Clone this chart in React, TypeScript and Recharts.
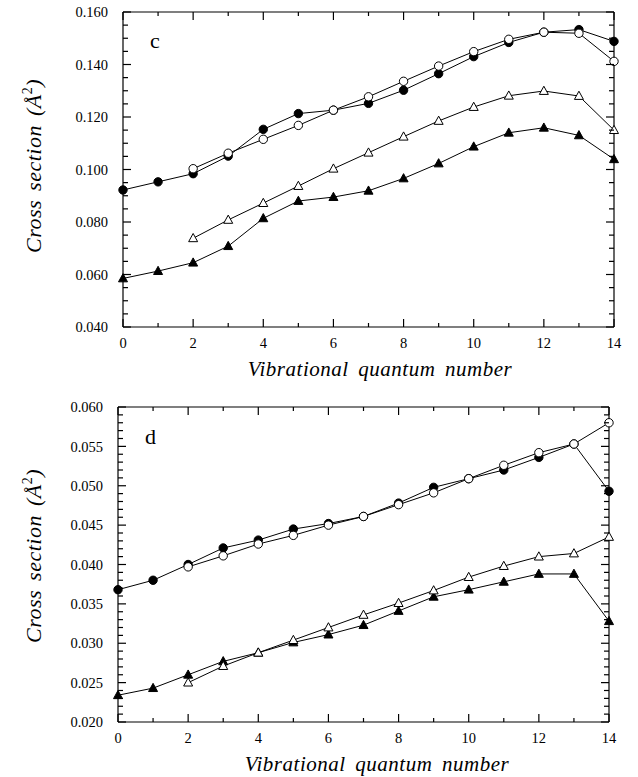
import React from "react";
import { LineChart, Line, XAxis, YAxis } from "recharts";

// ---------- data ----------
const vibrationalLevels = [0, 1, 2, 3, 4, 5, 6, 7, 8, 9, 10, 11, 12, 13, 14];

// panel c
const cFilledCircle = [0.0922, 0.0953, 0.0984, 0.1051, 0.1153, 0.1213, 0.1226, 0.1252, 0.1302, 0.1365, 0.143, 0.1484, 0.1523, 0.1533, 0.1488];
const cOpenCircle = [null, null, 0.1003, 0.1062, 0.1115, 0.1168, 0.1226, 0.1277, 0.1336, 0.1394, 0.1449, 0.1496, 0.1523, 0.1519, 0.1412];
const cOpenTriangle = [null, null, 0.0738, 0.0808, 0.0872, 0.0937, 0.1003, 0.1064, 0.1125, 0.1185, 0.1238, 0.1281, 0.1299, 0.128, 0.115];
const cFilledTriangle = [0.0585, 0.0613, 0.0645, 0.0708, 0.0814, 0.088, 0.0895, 0.0919, 0.0966, 0.1023, 0.1087, 0.114, 0.1159, 0.113, 0.1039];

// panel d
const dFilledCircle = [0.0368, 0.038, 0.04, 0.0421, 0.0431, 0.0445, 0.0452, 0.0461, 0.0478, 0.0498, 0.0509, 0.052, 0.0536, 0.0553, 0.0493];
const dOpenCircle = [null, null, 0.0397, 0.0411, 0.0426, 0.0437, 0.045, 0.0461, 0.0476, 0.0491, 0.0509, 0.0526, 0.0542, 0.0553, 0.058];
const dOpenTriangle = [null, null, 0.025, 0.0271, 0.0288, 0.0304, 0.032, 0.0336, 0.0351, 0.0367, 0.0384, 0.0398, 0.041, 0.0414, 0.0435];
const dFilledTriangle = [0.0234, 0.0243, 0.026, 0.0277, 0.0288, 0.0301, 0.0311, 0.0323, 0.0341, 0.0359, 0.0368, 0.0378, 0.0388, 0.0388, 0.0328];

// axis ticks
const xMajorTicks = [0, 2, 4, 6, 8, 10, 12, 14];
const cYMajorTicks = [0.04, 0.06, 0.08, 0.1, 0.12, 0.14, 0.16];
const dYMajorTicks = [0.02, 0.025, 0.03, 0.035, 0.04, 0.045, 0.05, 0.055, 0.06];

const xTitle = "Vibrational quantum number";
const yTitleMain = "Cross section (Å";
const yTitleSup = "2";
const yTitleEnd = ")";

// ---------- helpers ----------
const FONT = "'Liberation Serif', 'Times New Roman', serif";

function buildRows(fc: (number | null)[], oc: (number | null)[], ot: (number | null)[], ft: (number | null)[]) {
  return vibrationalLevels.map((v, i) => ({ v, fc: fc[i], oc: oc[i], ot: ot[i], ft: ft[i] }));
}

function withMinor(majors: number[], parts: number) {
  const out: number[] = [];
  for (let i = 0; i < majors.length; i++) {
    out.push(majors[i]);
    if (i < majors.length - 1) {
      const step = (majors[i + 1] - majors[i]) / parts;
      for (let k = 1; k < parts; k++) out.push(+(majors[i] + k * step).toFixed(6));
    }
  }
  return out;
}

function isMajor(val: number, majors: number[]) {
  return majors.some((m) => Math.abs(m - val) < 1e-7);
}

const AX = { stroke: "#000", strokeWidth: 1.2 };

const makeDot = (kind: string) => (p: any) => {
  const key = `${kind}-${p.index}`;
  if (p.cx == null || p.cy == null || p.value == null) return <g key={key} />;
  const { cx, cy } = p;
  if (kind === "fc") return <circle key={key} cx={cx} cy={cy} r={4.2} fill="#000" stroke="#000" strokeWidth={1} />;
  if (kind === "oc") return <circle key={key} cx={cx} cy={cy} r={4.2} fill="#fff" stroke="#000" strokeWidth={1} />;
  const d = `M${cx},${cy - 4.8} L${cx + 4.5},${cy + 3.4} L${cx - 4.5},${cy + 3.4} Z`;
  if (kind === "ft") return <path key={key} d={d} fill="#000" stroke="#000" strokeWidth={1} />;
  return <path key={key} d={d} fill="#fff" stroke="#000" strokeWidth={1} />;
};

function Panel(props: {
  top: number;
  leftW: number;
  rightM: number;
  rows: any[];
  yMajors: number[];
  yParts: number;
}) {
  const { top, leftW, rightM, rows, yMajors, yParts } = props;
  const yTicks = withMinor(yMajors, yParts);
  const xTicks = vibrationalLevels;
  const yDomain = [yMajors[0], yMajors[yMajors.length - 1]];

  const LeftTick = (p: any) => {
    const val = p.payload.value;
    const major = isMajor(val, yMajors);
    return (
      <g>
        <line x1={p.x} y1={p.y} x2={p.x + (major ? 8 : 5)} y2={p.y} stroke="#000" strokeWidth={1.2} />
        {major && (
          <text x={p.x - 15} y={p.y} dy="0.36em" textAnchor="end" fontFamily={FONT} fontSize={14.5} fill="#000">
            {val.toFixed(3)}
          </text>
        )}
      </g>
    );
  };
  const RightTick = (p: any) => {
    const major = isMajor(p.payload.value, yMajors);
    return <line x1={p.x} y1={p.y} x2={p.x - (major ? 8 : 5)} y2={p.y} stroke="#000" strokeWidth={1.2} />;
  };
  const BottomTick = (p: any) => {
    const val = p.payload.value;
    const major = xMajorTicks.includes(val);
    return (
      <g>
        <line x1={p.x} y1={p.y} x2={p.x} y2={p.y - (major ? 8 : 4)} stroke="#000" strokeWidth={1.2} />
        {major && (
          <text x={p.x} y={p.y + 21} textAnchor="middle" fontFamily={FONT} fontSize={14.5} fill="#000">
            {val}
          </text>
        )}
      </g>
    );
  };
  const TopTick = (p: any) => {
    const major = xMajorTicks.includes(p.payload.value);
    return <line x1={p.x} y1={p.y} x2={p.x} y2={p.y + (major ? 8 : 4)} stroke="#000" strokeWidth={1.2} />;
  };

  return (
    <div style={{ position: "absolute", left: 0, top }}>
      <LineChart width={638} height={390} data={rows} margin={{ top: 10, right: rightM, bottom: 34, left: 0 }}>
        <XAxis
          dataKey="v"
          type="number"
          domain={[0, 14]}
          ticks={xTicks}
          interval={0}
          tickSize={0}
          tickMargin={0}
          tickLine={false}
          axisLine={AX}
          height={30}
          tick={<BottomTick />}
        />
        <XAxis
          xAxisId="top"
          orientation="top"
          dataKey="v"
          type="number"
          domain={[0, 14]}
          ticks={xTicks}
          interval={0}
          tickSize={0}
          tickMargin={0}
          tickLine={false}
          axisLine={AX}
          height={1}
          tick={<TopTick />}
        />
        <YAxis
          type="number"
          domain={yDomain}
          ticks={yTicks}
          interval={0}
          tickSize={0}
          tickMargin={0}
          tickLine={false}
          axisLine={AX}
          width={leftW}
          allowDataOverflow
          tick={<LeftTick />}
        />
        <YAxis
          yAxisId="right"
          orientation="right"
          type="number"
          domain={yDomain}
          ticks={yTicks}
          interval={0}
          tickSize={0}
          tickMargin={0}
          tickLine={false}
          axisLine={AX}
          width={1}
          allowDataOverflow
          tick={<RightTick />}
        />
        <Line dataKey="ft" type="linear" stroke="#000" strokeWidth={1} dot={makeDot("ft")} activeDot={false} isAnimationActive={false} />
        <Line dataKey="ot" type="linear" stroke="#000" strokeWidth={1} dot={makeDot("ot")} activeDot={false} isAnimationActive={false} />
        <Line dataKey="fc" type="linear" stroke="#000" strokeWidth={1} dot={makeDot("fc")} activeDot={false} isAnimationActive={false} />
        <Line dataKey="oc" type="linear" stroke="#000" strokeWidth={1} dot={makeDot("oc")} activeDot={false} isAnimationActive={false} />
      </LineChart>
    </div>
  );
}

function YTitle({ x, y }: { x: number; y: number }) {
  return (
    <text
      x={x}
      y={y}
      transform={`rotate(-90, ${x}, ${y})`}
      textAnchor="middle"
      fontFamily={FONT}
      fontStyle="italic"
      fontSize={22}
      letterSpacing={0.5}
      wordSpacing={3}
      fill="#000"
    >
      {yTitleMain}
      <tspan dy={-9} fontSize={14} fontStyle="normal">{yTitleSup}</tspan>
      <tspan dy={9}>{yTitleEnd}</tspan>
    </text>
  );
}

function XTitle({ x, y }: { x: number; y: number }) {
  return (
    <text
      x={x}
      y={y}
      textAnchor="middle"
      fontFamily={FONT}
      fontStyle="italic"
      fontSize={21}
      letterSpacing={0.5}
      wordSpacing={4}
      fill="#000"
    >
      {xTitle}
    </text>
  );
}

export default function App() {
  const cRows = buildRows(cFilledCircle, cOpenCircle, cOpenTriangle, cFilledTriangle);
  const dRows = buildRows(dFilledCircle, dOpenCircle, dOpenTriangle, dFilledTriangle);
  return (
    <div style={{ position: "absolute", left: 0, top: 0, width: 638, height: 777, background: "#fff", overflow: "hidden" }}>
      <Panel top={1} leftW={123} rightM={23} rows={cRows} yMajors={cYMajorTicks} yParts={4} />
      <Panel top={396} leftW={118} rightM={28} rows={dRows} yMajors={dYMajorTicks} yParts={5} />
      <svg width={638} height={777} style={{ position: "absolute", left: 0, top: 0, pointerEvents: "none" }}>
        <text x={150} y={48} fontFamily={FONT} fontSize={22} fill="#000">c</text>
        <text x={145} y={444} fontFamily={FONT} fontSize={22} fill="#000">d</text>
        <YTitle x={41} y={166} />
        <YTitle x={41} y={556} />
        <XTitle x={380} y={376} />
        <XTitle x={377} y={771} />
      </svg>
    </div>
  );
}
